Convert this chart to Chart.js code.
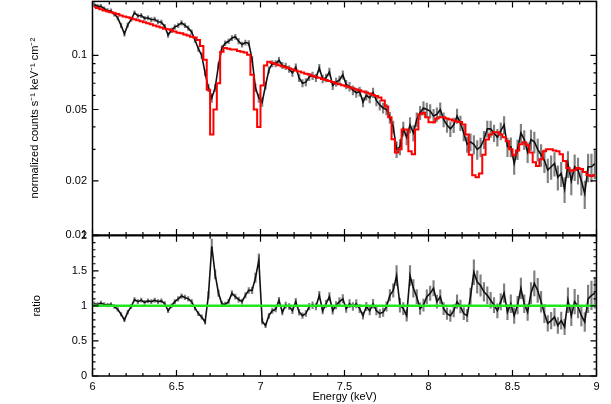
<!DOCTYPE html>
<html>
<head>
<meta charset="utf-8">
<script src="https://cdn.jsdelivr.net/npm/chart.js@4.4.1/dist/chart.umd.min.js"></script>
<style>
  html, body { margin: 0; padding: 0; background: #fff; }
  #wrap { position: relative; width: 611px; height: 404px; overflow: hidden; }
  canvas { position: absolute; left: 0; }
  #spec { top: 0; }
  #ratio { top: 220px; }
</style>
</head>
<body>
<div id="wrap">
  <canvas id="spec" width="611" height="250"></canvas>
  <canvas id="ratio" width="611" height="184"></canvas>
</div>
<script>
// bin centres (keV)
var energy = [
  6.01, 6.03, 6.05, 6.07, 6.09, 6.11, 6.13, 6.15, 6.17, 6.19,
  6.21, 6.23, 6.25, 6.27, 6.29, 6.31, 6.33, 6.35, 6.37, 6.39,
  6.41, 6.43, 6.45, 6.47, 6.49, 6.51, 6.53, 6.55, 6.57, 6.59,
  6.61, 6.63, 6.65, 6.67, 6.69, 6.71, 6.73, 6.75, 6.77, 6.79,
  6.81, 6.83, 6.85, 6.87, 6.89, 6.91, 6.93, 6.95, 6.97, 6.99,
  7.01, 7.03, 7.05, 7.07, 7.09, 7.11, 7.13, 7.15, 7.17, 7.19,
  7.21, 7.23, 7.25, 7.27, 7.29, 7.31, 7.33, 7.35, 7.37, 7.39,
  7.41, 7.43, 7.45, 7.47, 7.49, 7.51, 7.53, 7.55, 7.57, 7.59,
  7.61, 7.63, 7.65, 7.67, 7.69, 7.71, 7.73, 7.75, 7.77, 7.79,
  7.81, 7.83, 7.85, 7.87, 7.89, 7.91, 7.93, 7.95, 7.97, 7.99,
  8.01, 8.03, 8.05, 8.07, 8.09, 8.11, 8.13, 8.15, 8.17, 8.19,
  8.21, 8.23, 8.25, 8.27, 8.29, 8.31, 8.33, 8.35, 8.37, 8.39,
  8.41, 8.43, 8.45, 8.47, 8.49, 8.51, 8.53, 8.55, 8.57, 8.59,
  8.61, 8.63, 8.65, 8.67, 8.69, 8.71, 8.73, 8.75, 8.77, 8.79,
  8.81, 8.83, 8.85, 8.87, 8.89, 8.91, 8.93, 8.95, 8.97, 8.99
];

// normalized counts s^-1 keV^-1 cm^-2
var flux = [
  0.192, 0.188, 0.188, 0.182, 0.178, 0.177, 0.170, 0.162, 0.147, 0.132,
  0.148, 0.159, 0.173, 0.166, 0.167, 0.161, 0.162, 0.158, 0.159, 0.154,
  0.153, 0.145, 0.130, 0.138, 0.144, 0.147, 0.152, 0.147, 0.142, 0.135,
  0.122, 0.109, 0.100, 0.080, 0.066, 0.058, 0.066, 0.088, 0.110, 0.117,
  0.120, 0.125, 0.127, 0.120, 0.115, 0.118, 0.117, 0.095, 0.066, 0.058,
  0.055, 0.068, 0.083, 0.090, 0.090, 0.094, 0.088, 0.087, 0.084, 0.080,
  0.086, 0.075, 0.070, 0.071, 0.076, 0.077, 0.075, 0.085, 0.074, 0.075,
  0.081, 0.068, 0.071, 0.073, 0.078, 0.069, 0.067, 0.064, 0.062, 0.063,
  0.055, 0.060, 0.058, 0.062, 0.056, 0.053, 0.051, 0.050, 0.045, 0.040,
  0.030, 0.031, 0.039, 0.035, 0.041, 0.037, 0.044, 0.048, 0.051, 0.050,
  0.049, 0.046, 0.047, 0.050, 0.044, 0.041, 0.039, 0.041, 0.046, 0.042,
  0.037, 0.032, 0.033, 0.032, 0.030, 0.031, 0.034, 0.039, 0.039, 0.037,
  0.035, 0.038, 0.041, 0.031, 0.031, 0.025, 0.030, 0.037, 0.034, 0.029,
  0.034, 0.033, 0.030, 0.028, 0.026, 0.023, 0.024, 0.025, 0.021, 0.022,
  0.018, 0.025, 0.020, 0.024, 0.023, 0.020, 0.017, 0.024, 0.024, 0.025
];

// folded model
var model = [
  0.186, 0.184, 0.181, 0.178, 0.176, 0.174, 0.172, 0.170, 0.167, 0.165,
  0.163, 0.161, 0.159, 0.157, 0.155, 0.153, 0.151, 0.149, 0.147, 0.145,
  0.143, 0.141, 0.140, 0.138, 0.136, 0.134, 0.133, 0.131, 0.129, 0.127,
  0.126, 0.122, 0.113, 0.0947, 0.0645, 0.0363, 0.050, 0.070, 0.105, 0.110,
  0.109, 0.108, 0.108, 0.106, 0.105, 0.104, 0.101, 0.078, 0.050, 0.040,
  0.068, 0.088, 0.0923, 0.0907, 0.0895, 0.0883, 0.0872, 0.0860, 0.0849, 0.0837,
  0.0825, 0.0815, 0.0803, 0.0792, 0.0782, 0.0771, 0.0761, 0.0751, 0.0740, 0.0731,
  0.0720, 0.0711, 0.0701, 0.0692, 0.0683, 0.0674, 0.0665, 0.0656, 0.0647, 0.0639,
  0.0630, 0.0622, 0.0614, 0.0603, 0.0595, 0.0583, 0.0561, 0.0520, 0.0452, 0.0341,
  0.0288, 0.0300, 0.0387, 0.0387, 0.0293, 0.0282, 0.0387, 0.0470, 0.0480, 0.0452,
  0.0424, 0.0424, 0.0446, 0.0452, 0.0452, 0.0446, 0.0440, 0.0434, 0.0429, 0.0426,
  0.0413, 0.0363, 0.0280, 0.0215, 0.0210, 0.0220, 0.0280, 0.0340, 0.0363, 0.0373,
  0.0373, 0.0363, 0.0350, 0.0333, 0.0300, 0.0278, 0.0296, 0.0320, 0.0328, 0.0316,
  0.0288, 0.0254, 0.0242, 0.0264, 0.0293, 0.0300, 0.0300, 0.0296, 0.0293, 0.0282,
  0.0258, 0.0236, 0.0228, 0.0230, 0.0236, 0.0233, 0.0224, 0.0216, 0.0213, 0.0216
];

// data / model
var ratio = [
  1.03, 1.02, 1.04, 1.02, 1.01, 1.02, 0.99, 0.95, 0.88, 0.80,
  0.91, 0.99, 1.09, 1.06, 1.08, 1.05, 1.07, 1.06, 1.08, 1.06,
  1.07, 1.03, 0.93, 1.00, 1.06, 1.10, 1.14, 1.12, 1.10, 1.06,
  0.97, 0.89, 0.84, 0.77, 1.15, 1.85, 1.45, 1.18, 1.03, 1.02,
  1.06, 1.18, 1.13, 1.09, 1.06, 1.15, 1.22, 1.22, 1.40, 1.65,
  0.78, 0.72, 0.86, 0.93, 0.95, 1.08, 0.91, 1.01, 0.99, 0.93,
  1.06, 0.91, 0.86, 0.89, 0.99, 1.01, 0.99, 1.15, 0.93, 1.03,
  1.13, 0.93, 1.01, 1.06, 1.10, 0.96, 1.03, 0.99, 1.03, 0.96,
  0.86, 0.99, 0.93, 1.03, 0.93, 0.89, 0.91, 0.99, 1.15, 1.22,
  1.43, 1.01, 0.96, 0.86, 1.43, 1.25, 1.13, 0.96, 1.01, 1.13,
  1.18, 1.25, 1.06, 1.13, 0.96, 0.89, 0.86, 0.93, 1.06, 0.99,
  0.89, 0.86, 1.13, 1.48, 1.34, 1.29, 1.20, 1.15, 1.08, 1.01,
  0.93, 1.06, 1.18, 0.91, 1.03, 0.86, 1.01, 1.25, 1.03, 0.91,
  1.18, 1.32, 1.22, 1.06, 0.89, 0.75, 0.79, 0.84, 0.72, 0.79,
  0.70, 1.08, 0.86, 1.06, 0.99, 0.86, 0.77, 1.10, 1.15, 1.18
];

// fractional 1-sigma errors
var relErr = [
  0.025, 0.025, 0.026, 0.025, 0.026, 0.026, 0.027, 0.027, 0.028, 0.030,
  0.028, 0.027, 0.026, 0.027, 0.027, 0.027, 0.027, 0.028, 0.028, 0.028,
  0.028, 0.029, 0.030, 0.029, 0.029, 0.029, 0.029, 0.029, 0.030, 0.030,
  0.031, 0.033, 0.036, 0.040, 0.045, 0.055, 0.045, 0.038, 0.033, 0.032,
  0.032, 0.032, 0.032, 0.033, 0.033, 0.033, 0.034, 0.038, 0.048, 0.055,
  0.055, 0.045, 0.040, 0.040, 0.040, 0.040, 0.042, 0.042, 0.043, 0.044,
  0.045, 0.046, 0.047, 0.047, 0.047, 0.048, 0.048, 0.049, 0.050, 0.050,
  0.051, 0.052, 0.052, 0.053, 0.054, 0.055, 0.056, 0.057, 0.058, 0.059,
  0.060, 0.061, 0.062, 0.062, 0.064, 0.065, 0.066, 0.068, 0.070, 0.078,
  0.100, 0.098, 0.090, 0.092, 0.100, 0.100, 0.090, 0.086, 0.085, 0.086,
  0.087, 0.088, 0.088, 0.088, 0.090, 0.092, 0.094, 0.094, 0.092, 0.093,
  0.096, 0.100, 0.110, 0.120, 0.120, 0.118, 0.110, 0.105, 0.105, 0.106,
  0.108, 0.110, 0.112, 0.118, 0.122, 0.130, 0.125, 0.118, 0.122, 0.128,
  0.130, 0.135, 0.140, 0.140, 0.145, 0.150, 0.150, 0.150, 0.155, 0.155,
  0.160, 0.165, 0.165, 0.165, 0.165, 0.168, 0.175, 0.178, 0.178, 0.180
];

var unityLine = [{ x: 6, y: 1 }, { x: 9, y: 1 }];

var energyTicks = [6, 6.5, 7, 7.5, 8, 8.5, 9];
var energyTickLabels = ['6', '6.5', '7', '7.5', '8', '8.5', '9'];
var energyMinor = [6.1, 6.2, 6.3, 6.4, 6.6, 6.7, 6.8, 6.9, 7.1, 7.2, 7.3, 7.4,
  7.6, 7.7, 7.8, 7.9, 8.1, 8.2, 8.3, 8.4, 8.6, 8.7, 8.8, 8.9];

var fluxTicks = [0.01, 0.02, 0.05, 0.1];
var fluxTickLabels = ['0.01', '0.02', '0.05', '0.1'];
var fluxMinor = [0.03, 0.04, 0.06, 0.07, 0.08, 0.09];

var ratioTicks = [0, 0.5, 1, 1.5, 2];
var ratioTickLabels = ['0', '0.5', '1', '1.5', '2'];
var ratioMinor = [0.1, 0.2, 0.3, 0.4, 0.6, 0.7, 0.8, 0.9, 1.1, 1.2, 1.3, 1.4,
  1.6, 1.7, 1.8, 1.9];

var FONT = 'Liberation Sans, Arial, Helvetica, sans-serif';

// inward tick marks on all four sides plus the frame
var axisFrame = {
  id: 'axisFrame',
  afterDatasetsDraw: function (chart, args, opts) {
    var ctx = chart.ctx, a = chart.chartArea;
    var xs = chart.scales.x, ys = chart.scales.y;
    ctx.save();
    ctx.strokeStyle = '#000';
    ctx.lineWidth = 1.2;
    ctx.beginPath();
    function xTick(v, len) {
      var p = xs.getPixelForValue(v);
      ctx.moveTo(p, a.bottom); ctx.lineTo(p, a.bottom - len);
      ctx.moveTo(p, a.top); ctx.lineTo(p, a.top + len);
    }
    function yTick(v, len) {
      var p = ys.getPixelForValue(v);
      ctx.moveTo(a.left, p); ctx.lineTo(a.left + len, p);
      ctx.moveTo(a.right, p); ctx.lineTo(a.right - len, p);
    }
    opts.xMajor.forEach(function (v) { xTick(v, 6); });
    opts.xMinor.forEach(function (v) { xTick(v, 3); });
    opts.yMajor.forEach(function (v) { yTick(v, 6); });
    opts.yMinor.forEach(function (v) { yTick(v, 3); });
    ctx.stroke();
    ctx.lineWidth = 1.5;
    ctx.strokeRect(a.left, a.top, a.right - a.left, a.bottom - a.top);
    ctx.restore();
  }
};

function points(values) {
  return energy.map(function (e, i) { return { x: e, y: values[i] }; });
}

function errorBars(values) {
  return energy.map(function (e, i) {
    var d = values[i] * relErr[i];
    return { x: e, y: [values[i] - d, values[i] + d] };
  });
}

// fixed axis width, and no extra room kept for half labels
function yAxis(extra) {
  var axis = {
    afterFit: function (s) { s.width = 92.5; s.paddingTop = 0; s.paddingBottom = 0; },
    grid: { display: false, drawTicks: false },
    border: { display: false }
  };
  return Object.assign(axis, extra);
}

Chart.defaults.font.family = FONT;

new Chart(document.getElementById('spec'), {
  type: 'line',
  data: {
    datasets: [
      { label: 'model', data: points(model), borderColor: '#ff0000', borderWidth: 2,
        pointRadius: 0, stepped: 'middle', order: 0 },
      { label: 'data', data: points(flux), borderColor: '#111', borderWidth: 1.6,
        pointRadius: 0, tension: 0, order: 1 },
      { type: 'bar', label: 'error', data: errorBars(flux), backgroundColor: '#808080',
        barThickness: 1.5, order: 2 }
    ]
  },
  options: {
    responsive: false,
    animation: false,
    events: [],
    layout: { padding: { left: 0, right: 14.5, top: 1.4, bottom: 15 } },
    scales: {
      x: { type: 'linear', min: 6, max: 9, offset: false, display: false },
      y: yAxis({
        type: 'logarithmic', min: 0.01, max: 0.2,
        afterBuildTicks: function (s) {
          s.ticks = fluxTicks.map(function (v) { return { value: v }; });
        },
        ticks: { color: '#000', font: { family: FONT, size: 11 }, padding: 5.5, autoSkip: false,
          callback: function (v, i) { return fluxTickLabels[i]; } },
        title: { display: true, text: 'normalized counts s\u207B\u00B9 keV\u207B\u00B9 cm\u207B\u00B2',
          color: '#000', font: { family: FONT, size: 11 }, padding: { top: 28.4, bottom: 0 } }
      })
    },
    plugins: {
      legend: { display: false },
      tooltip: { enabled: false },
      axisFrame: { xMajor: energyTicks, xMinor: energyMinor, yMajor: fluxTicks, yMinor: fluxMinor }
    }
  },
  plugins: [axisFrame]
});

new Chart(document.getElementById('ratio'), {
  type: 'line',
  data: {
    datasets: [
      { label: 'unity', data: unityLine, borderColor: '#22e622', borderWidth: 2.5,
        pointRadius: 0, order: 0 },
      { label: 'ratio', data: points(ratio), borderColor: '#111', borderWidth: 1.6,
        pointRadius: 0, tension: 0, order: 1 },
      { type: 'bar', label: 'error', data: errorBars(ratio), backgroundColor: '#808080',
        barThickness: 1.5, order: 2 }
    ]
  },
  options: {
    responsive: false,
    animation: false,
    events: [],
    layout: { padding: { left: 0, right: 14.5, top: 15.7, bottom: 0 } },
    scales: {
      x: {
        type: 'linear', min: 6, max: 9, offset: false,
        afterFit: function (s) { s.height = 28; s.paddingLeft = 0; s.paddingRight = 0; },
        afterBuildTicks: function (s) {
          s.ticks = energyTicks.map(function (v) { return { value: v }; });
        },
        grid: { display: false, drawTicks: false, offset: false },
        border: { display: false },
        ticks: { color: '#000', font: { family: FONT, size: 11 }, padding: 4.5, autoSkip: false,
          maxRotation: 0, callback: function (v, i) { return energyTickLabels[i]; } },
        title: { display: true, text: 'Energy (keV)', color: '#000',
          font: { family: FONT, size: 11 }, padding: { top: 0, bottom: 0 } }
      },
      y: yAxis({
        type: 'linear', min: 0, max: 2,
        afterBuildTicks: function (s) {
          s.ticks = ratioTicks.map(function (v) { return { value: v }; });
        },
        ticks: { color: '#000', font: { family: FONT, size: 11 }, padding: 5.5, autoSkip: false,
          callback: function (v, i) { return ratioTickLabels[i]; } },
        title: { display: true, text: 'ratio', color: '#000',
          font: { family: FONT, size: 11 }, padding: { top: 30.5, bottom: 0 } }
      })
    },
    plugins: {
      legend: { display: false },
      tooltip: { enabled: false },
      axisFrame: { xMajor: energyTicks, xMinor: energyMinor, yMajor: ratioTicks, yMinor: ratioMinor }
    }
  },
  plugins: [axisFrame]
});
</script>
</body>
</html>
